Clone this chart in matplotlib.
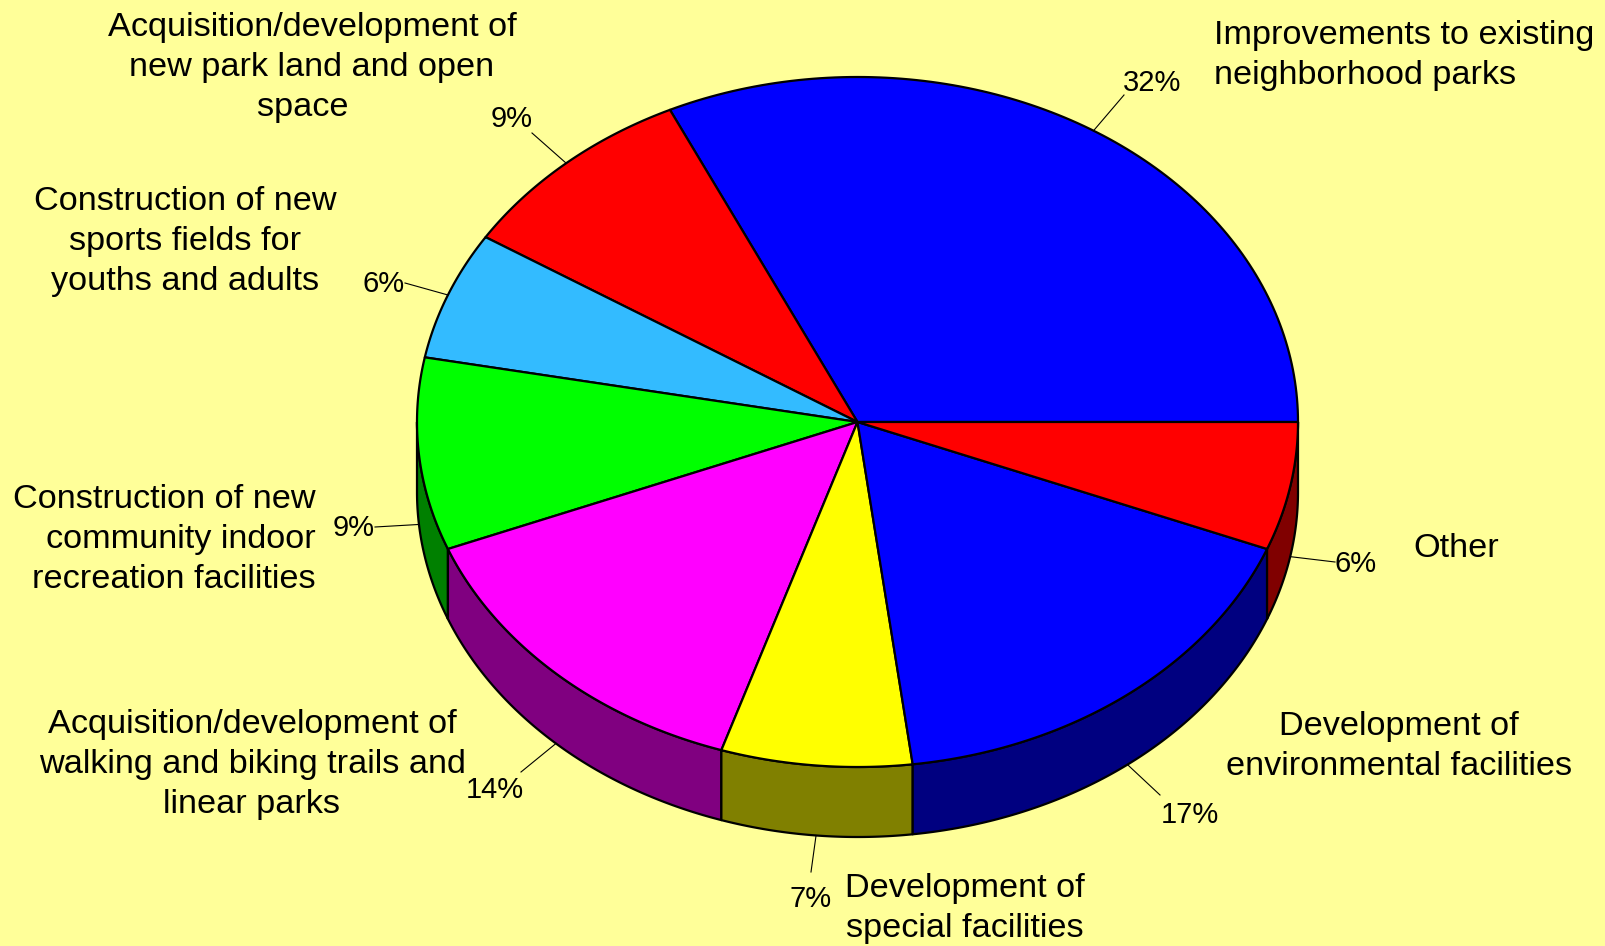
import numpy as np
import matplotlib.pyplot as plt
from matplotlib.patches import Polygon

# ── data ────────────────────────────────────────────────────────────────────
categories = [
    "Improvements to existing\nneighborhood parks",
    "Acquisition/development of\nnew park land and open\nspace  ",
    "Construction of new\nsports fields for\nyouths and adults",
    "Construction of new\ncommunity indoor\nrecreation facilities",
    "Acquisition/development of\nwalking and biking trails and\nlinear parks",
    "Development of\nspecial facilities",
    "Development of\nenvironmental facilities",
    "Other",
]
shares = [32, 9, 6, 9, 14, 7, 17, 6]

top_colors = ["#0000FF", "#FF0000", "#33BBFF", "#00FF00",
              "#FF00FF", "#FFFF00", "#0000FF", "#FF0000"]
side_colors = ["#000080", "#800000", "#1A5E80", "#008000",
               "#800080", "#808000", "#000080", "#800000"]

# ── layout (pixel space, y down) ────────────────────────────────────────────
W, H = 1606, 946
CX, CY = 857.5, 422.0
RX, RY = 440.5, 345.0
DEPTH = 70.0
BG = "#FFFF99"
LINE_H = 40

# category text: x, first baseline, alignment
name_pos = [
    (1214, 44, "left"),
    (312, 36, "center"),
    (185, 210, "center"),
    (316, 508, "right"),
    (252, 733, "center"),
    (965, 897, "center"),
    (1399, 735, "center"),
    (1413, 557, "left"),
]
# percent text: x centre, baseline, leader outer end
pct_pos = [
    (1152, 91, (1124, 95)),
    (512, 127, (532, 133)),
    (384, 292, (405, 283)),
    (354, 536, (375, 527)),
    (495, 798, (521, 772)),
    (811, 907, (811, 872)),
    (1190, 823, (1160, 795)),
    (1356, 572, (1335, 562)),
]


def rim(a0, a1, dy=0.0, n=120):
    t = np.radians(np.linspace(a0, a1, n))
    return np.column_stack([CX + RX * np.cos(t), CY - RY * np.sin(t) + dy])


plt.rcParams["font.family"] = ["Liberation Sans", "DejaVu Sans"]
fig = plt.figure(figsize=(W / 100, H / 100), dpi=100, facecolor=BG)
ax = fig.add_axes([0, 0, 1, 1])
ax.set_facecolor(BG)
ax.set_xlim(0, W)
ax.set_ylim(H, 0)
ax.axis("off")

bounds = np.concatenate([[0], np.cumsum(shares)]) * 360.0 / sum(shares)

# side walls (only the front half, 180°..360°, is visible)
for i in range(len(shares)):
    a0, a1 = max(bounds[i], 180.0), min(bounds[i + 1], 360.0)
    if a1 <= a0:
        continue
    pts = np.vstack([rim(a0, a1), rim(a1, a0, DEPTH)])
    ax.add_patch(Polygon(pts, closed=True, facecolor=side_colors[i],
                         edgecolor="black", lw=1.6, joinstyle="round"))

# top face wedges
for i in range(len(shares)):
    pts = np.vstack([[CX, CY], rim(bounds[i], bounds[i + 1])])
    ax.add_patch(Polygon(pts, closed=True, facecolor=top_colors[i],
                         edgecolor="black", lw=1.6, joinstyle="round"))

# labels and leader lines
for i, v in enumerate(shares):
    mid = np.radians((bounds[i] + bounds[i + 1]) / 2)
    ax_x = CX + RX * np.cos(mid)
    ax_y = CY - RY * np.sin(mid) + (DEPTH if np.sin(mid) < 0 else 0)
    px, py, (lx, ly) = pct_pos[i]
    ax.plot([ax_x, lx], [ax_y, ly], color="black", lw=0.8)
    ax.text(px, py, f"{v}%", fontsize=21, ha="center", va="baseline")

    nx, ny, ha = name_pos[i]
    for k, line in enumerate(categories[i].split("\n")):
        ax.text(nx, ny + k * LINE_H, line, fontsize=24.7, ha=ha, va="baseline")

fig.savefig("out.png", dpi=100, facecolor=BG)
